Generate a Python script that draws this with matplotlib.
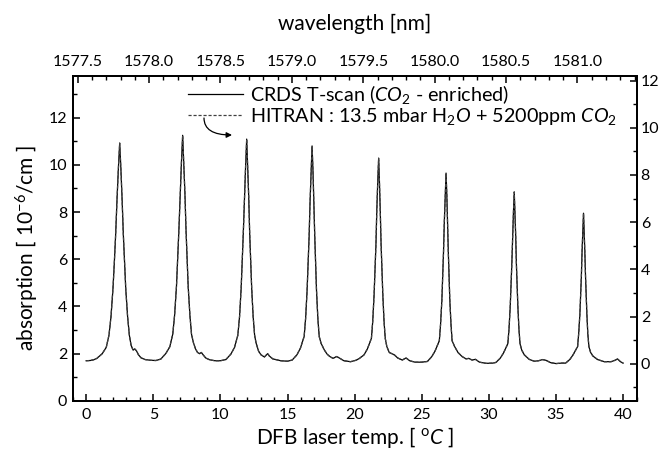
import matplotlib.pyplot as plt
from matplotlib.ticker import MultipleLocator, FormatStrFormatter

# DFB laser temperature [deg C] and absorption [1e-6 /cm]
temp_c = [
    0.00, 0.30, 0.55, 0.80,
    1.20, 1.50, 1.70, 1.85, 2.00, 2.10, 2.20, 2.30, 2.40, 2.50,
    2.59, 2.68, 2.77, 2.86, 2.95, 3.09, 3.22, 3.35, 3.50, 3.62, 3.75, 3.90, 4.10, 4.40, 4.80, 5.20,
    5.56, 5.94, 6.23, 6.45, 6.59, 6.73, 6.82, 6.91, 7.01, 7.10, 7.19,
    7.27, 7.36, 7.44, 7.52, 7.60, 7.73, 7.85, 8.00, 8.15, 8.30, 8.45, 8.58, 8.72, 8.90, 9.20, 9.60, 10.00,
    10.41, 10.78, 11.05, 11.30, 11.43, 11.55, 11.63, 11.71, 11.80, 11.88, 11.96,
    12.03, 12.11, 12.18, 12.26, 12.33, 12.44, 12.55, 12.66, 12.85, 13.03, 13.28, 13.52, 13.65, 13.90, 14.50, 15.00,
    15.35, 15.70, 15.96, 16.24, 16.35, 16.46, 16.53, 16.61, 16.68, 16.76, 16.83,
    16.90, 16.96, 17.03, 17.10, 17.16, 17.26, 17.36, 17.50, 17.74, 17.95, 18.15, 18.40, 18.65, 18.85, 19.20, 19.70, 20.10,
    20.36, 20.70, 20.95, 21.25, 21.35, 21.45, 21.52, 21.59, 21.65, 21.72, 21.79,
    21.85, 21.91, 21.97, 22.04, 22.10, 22.19, 22.28, 22.40, 22.58, 22.96, 23.20, 23.55, 23.83, 24.10, 24.50, 25.00,
    25.42, 25.74, 25.99, 26.31, 26.40, 26.50, 26.56, 26.62, 26.68, 26.75, 26.81,
    26.87, 26.92, 26.98, 27.04, 27.09, 27.18, 27.26, 27.45, 27.70, 28.00, 28.30, 28.50, 28.75, 29.00, 29.30, 29.80, 30.30,
    30.53, 30.85, 31.09, 31.41, 31.50, 31.59, 31.65, 31.71, 31.77, 31.83, 31.89,
    31.94, 32.00, 32.05, 32.11, 32.16, 32.24, 32.32, 32.45, 32.64, 33.00, 33.38, 33.70, 34.00, 34.25, 34.60, 35.00, 35.40,
    35.72, 36.04, 36.27, 36.61, 36.69, 36.78, 36.83, 36.89, 36.94, 37.00, 37.05,
    37.10, 37.15, 37.20, 37.25, 37.30, 37.37, 37.45, 37.58, 37.75, 38.10, 38.60, 39.10, 39.40, 39.58, 39.80, 40.00,
]
crds_abs = [
    1.70, 1.71, 1.74, 1.80,
    2.00, 2.27, 2.78, 3.56, 4.76, 5.86, 7.06, 8.53, 9.82, 10.92,
    9.82, 8.53, 7.06, 5.86, 4.76, 3.56, 2.78, 2.35, 2.15, 2.20, 2.12, 1.95, 1.82, 1.75, 1.72, 1.71,
    1.77, 2.01, 2.29, 2.82, 3.63, 4.86, 6.01, 7.25, 8.77, 10.11, 11.25,
    10.11, 8.77, 7.25, 6.01, 4.86, 3.63, 2.82, 2.45, 2.20, 2.05, 2.00, 2.05, 1.95, 1.82, 1.74, 1.70, 1.70,
    1.75, 1.98, 2.26, 2.78, 3.58, 4.80, 5.93, 7.15, 8.65, 9.96, 11.09,
    9.96, 8.65, 7.15, 5.93, 4.80, 3.58, 2.78, 2.45, 2.10, 1.95, 1.86, 2.00, 1.90, 1.78, 1.70, 1.68,
    1.73, 1.95, 2.23, 2.73, 3.50, 4.69, 5.78, 6.97, 8.43, 9.71, 10.80,
    9.71, 8.43, 6.97, 5.78, 4.69, 3.50, 2.73, 2.44, 2.16, 1.98, 1.88, 1.80, 1.88, 1.82, 1.70, 1.66, 1.72,
    1.80, 1.95, 2.20, 2.65, 3.38, 4.50, 5.54, 6.66, 8.04, 9.25, 10.28,
    9.25, 8.04, 6.66, 5.54, 4.50, 3.38, 2.65, 2.30, 2.05, 1.95, 1.82, 1.73, 1.82, 1.70, 1.64, 1.64,
    1.67, 1.87, 2.11, 2.55, 3.23, 4.28, 5.24, 6.28, 7.56, 8.69, 9.65,
    8.69, 7.56, 6.28, 5.24, 4.28, 3.23, 2.55, 2.30, 2.05, 1.88, 1.78, 1.80, 1.73, 1.76, 1.64, 1.59, 1.60,
    1.63, 1.81, 2.03, 2.42, 3.04, 3.99, 4.86, 5.80, 6.96, 7.98, 8.85,
    7.98, 6.96, 5.80, 4.86, 3.99, 3.04, 2.42, 2.15, 1.95, 1.76, 1.68, 1.70, 1.75, 1.72, 1.62, 1.58, 1.60,
    1.60, 1.76, 1.95, 2.30, 2.85, 3.68, 4.44, 5.27, 6.29, 7.18, 7.95,
    7.18, 6.29, 5.27, 4.44, 3.68, 2.85, 2.30, 2.05, 1.90, 1.75, 1.66, 1.66, 1.72, 1.78, 1.66, 1.60,
]
# the HITRAN simulation lies on top of the measurement at this scale
hitran_abs = list(crds_abs)

wl_ticks = [1577.5, 1578.0, 1578.5, 1579.0, 1579.5, 1580.0, 1580.5, 1581.0]
left_ticks = [0, 2, 4, 6, 8, 10, 12]
right_ticks = [0, 2, 4, 6, 8, 10, 12]
temp_ticks = [0, 5, 10, 15, 20, 25, 30, 35, 40]

plt.rcParams['font.family'] = ['Lato', 'DejaVu Sans']
plt.rcParams['mathtext.fontset'] = 'custom'
plt.rcParams['mathtext.rm'] = 'Lato'
plt.rcParams['mathtext.it'] = 'Lato:italic'
plt.rcParams['axes.linewidth'] = 1.2

fig = plt.figure(figsize=(6.61, 4.54), dpi=100)
ax = fig.add_axes([0.110, 0.117, 0.853, 0.716])

ax.plot(temp_c, crds_abs, color='k', lw=0.9,
        label=r'CRDS T-scan ($\mathit{CO}_2$ - enriched)')
ax.plot(temp_c, hitran_abs, color='0.25', lw=0.9, ls=(0, (2.5, 1.5)),
        label=r'HITRAN : 13.5 mbar H$_2\mathit{O}$ + 5200ppm $\mathit{CO}_2$')

ax.set_xlim(-1.0, 41.0)
ax.set_ylim(0, 13.77)
ax.set_xticks(temp_ticks)
ax.xaxis.set_minor_locator(MultipleLocator(1))
ax.set_yticks(left_ticks)
ax.yaxis.set_minor_locator(MultipleLocator(1))
ax.tick_params(which='both', direction='in', top=False, right=False, labelsize=11.5)
ax.tick_params(which='major', length=5, width=1.1)
ax.tick_params(which='minor', length=3, width=1.0)
ax.tick_params(axis='x', pad=5)
ax.tick_params(axis='y', pad=4)

ax_r = ax.twinx()
ax_r.set_ylim(-1.57, 12.2)
ax_r.set_yticks(right_ticks)
ax_r.yaxis.set_minor_locator(MultipleLocator(1))
ax_r.tick_params(which='both', direction='in', labelsize=11.5, pad=3)
ax_r.tick_params(which='major', length=5, width=1.1)
ax_r.tick_params(which='minor', length=3, width=1.0)

ax_t = ax.twiny()
ax_t.set_xlim(1577.465, 1581.414)
ax_t.set_xticks(wl_ticks)
ax_t.xaxis.set_minor_locator(MultipleLocator(0.1))
ax_t.xaxis.set_major_formatter(FormatStrFormatter('%.1f'))
ax_t.tick_params(which='both', direction='in', labelsize=11.5, pad=5)
ax_t.tick_params(which='major', length=5, width=1.1)
ax_t.tick_params(which='minor', length=3, width=1.0)

fig.text(0.537, 0.037, r'DFB laser temp. [ $^{\rm o}\mathit{C}$ ]', ha='center', va='center',
         fontsize=15)
fig.text(0.537, 0.947, 'wavelength [nm]', ha='center', va='center', fontsize=15)
fig.text(0.042, 0.454, r'absorption [ 10$^{-6}$/cm ]', ha='center', va='center',
         rotation=90, fontsize=15)

ax.legend(loc='upper left', bbox_to_anchor=(0.284, 0.818), bbox_transform=fig.transFigure,
          frameon=False, fontsize=14.2, handlelength=2.8, handletextpad=0.35,
          labelspacing=0.0, borderpad=0, borderaxespad=0)

# little hook arrow from the HITRAN legend entry
ax.annotate('', xy=(232, 319), xytext=(204, 336), xycoords='figure pixels',
            textcoords='figure pixels',
            arrowprops=dict(arrowstyle='-|>', color='k', lw=0.9, mutation_scale=8,
                            shrinkA=0, shrinkB=0,
                            connectionstyle='angle3,angleA=90,angleB=0'))

fig.savefig('out.png', dpi=100)
